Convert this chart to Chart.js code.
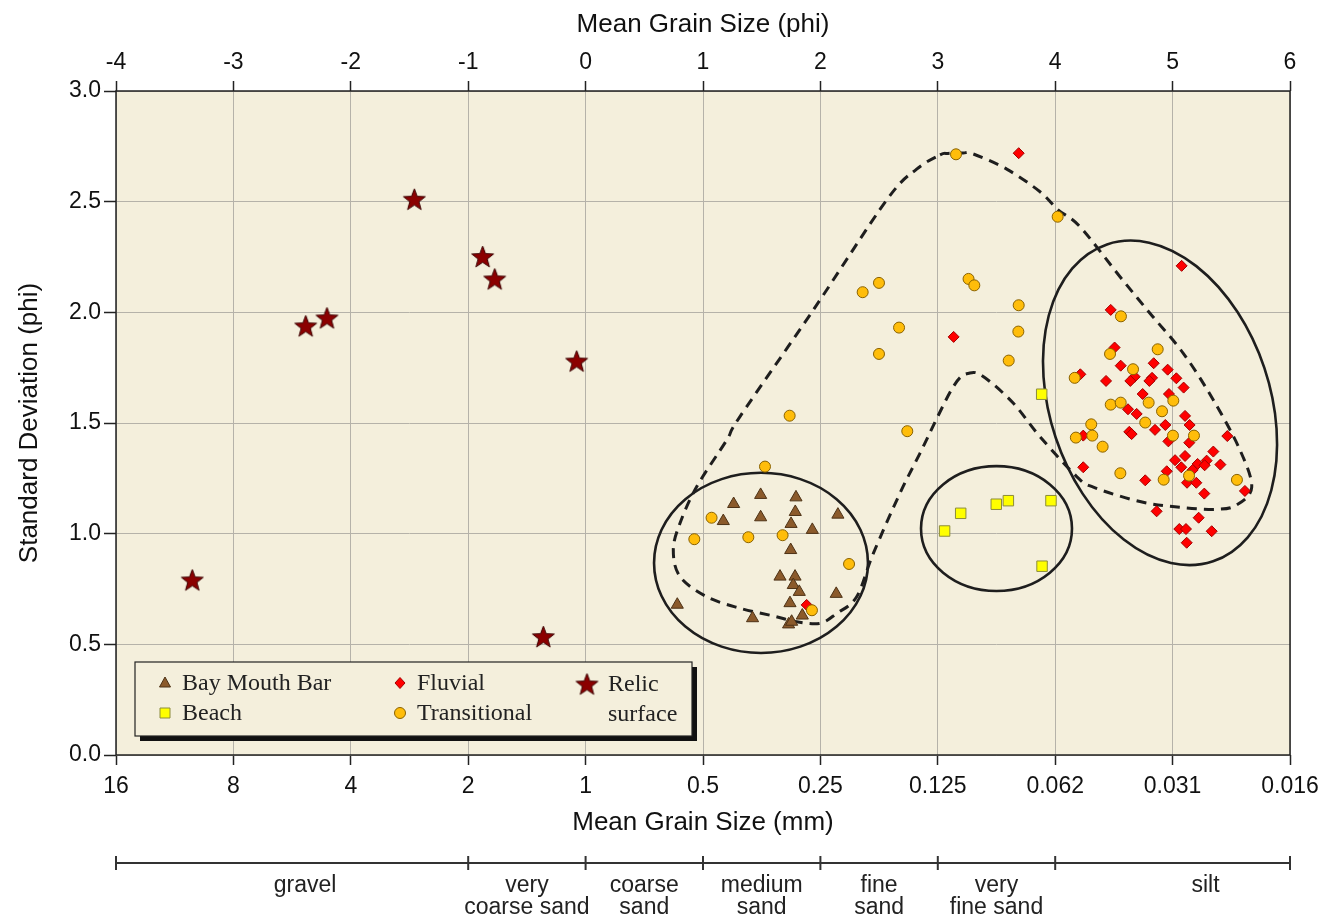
<!DOCTYPE html>
<html>
<head>
<meta charset="utf-8">
<script src="https://cdn.jsdelivr.net/npm/chart.js@4/dist/chart.umd.min.js"></script>
<style>
  body { margin: 0; background: #ffffff; }
  #wrap { width: 1323px; height: 920px; }
</style>
</head>
<body>
<div id="wrap"><canvas id="grainChart" width="1323" height="920"></canvas></div>
<script>
// Mean grain size (phi) vs standard deviation (phi), by sample group
const phiTicks = [-4, -3, -2, -1, 0, 1, 2, 3, 4, 5, 6];
const mmLabels = ['16', '8', '4', '2', '1', '0.5', '0.25', '0.125', '0.062', '0.031', '0.016'];

const bayMouthBarPhi = [1.491, 1.792, 1.261, 1.491, 1.786, 1.173, 1.750, 2.149, 1.931, 1.747, 1.656, 1.784, 1.769, 1.820, 2.135, 0.781, 1.741, 1.846, 1.422, 1.729, 1.755];
const bayMouthBarSd  = [1.175, 1.164, 1.134, 1.074, 1.098, 1.057, 1.044, 1.086, 1.017, 0.926, 0.806, 0.806, 0.768, 0.737, 0.728, 0.679, 0.686, 0.630, 0.618, 0.590, 0.602];

const beachPhi = [3.195, 3.058, 3.498, 3.601, 3.964, 3.888, 3.885];
const beachSd  = [1.092, 1.012, 1.133, 1.149, 1.149, 0.853, 1.630];

const fluvialPhi = [1.883, 3.689, 3.135, 5.077, 4.473, 4.506, 4.558, 4.839, 4.958, 4.214, 4.433, 4.677, 4.640, 4.825, 4.802, 5.032, 5.094, 4.745, 4.969, 4.620, 4.694, 5.106, 4.938, 5.145, 4.631, 4.651, 4.850, 5.466, 4.239, 4.964, 5.142, 5.347, 5.106, 5.021, 5.290, 5.213, 5.273, 5.407, 5.074, 4.239, 4.950, 5.171, 4.767, 5.123, 5.202, 5.616, 5.270, 4.864, 5.222, 5.057, 5.114, 5.333, 5.120];
const fluvialSd  = [0.678, 2.719, 1.889, 2.210, 2.011, 1.841, 1.759, 1.770, 1.741, 1.720, 1.690, 1.709, 1.690, 1.704, 1.690, 1.702, 1.660, 1.631, 1.631, 1.562, 1.541, 1.532, 1.491, 1.491, 1.460, 1.450, 1.469, 1.441, 1.443, 1.417, 1.411, 1.371, 1.351, 1.332, 1.330, 1.315, 1.309, 1.312, 1.300, 1.300, 1.282, 1.288, 1.241, 1.230, 1.230, 1.193, 1.181, 1.101, 1.072, 1.021, 1.021, 1.011, 0.959];

const transitionalPhi = [1.528, 1.073, 0.926, 1.386, 1.678, 2.244, 1.928, 3.155, 4.021, 2.499, 2.360, 3.262, 3.311, 3.689, 2.670, 3.686, 2.499, 3.604, 1.738, 2.740, 4.560, 4.467, 4.873, 4.663, 4.166, 5.006, 4.473, 4.558, 4.796, 4.910, 4.767, 4.307, 5.003, 5.182, 4.176, 4.316, 4.404, 4.555, 5.140, 4.924, 5.548];
const transitionalSd  = [1.303, 1.072, 0.975, 0.984, 0.993, 0.863, 0.654, 2.714, 2.432, 2.133, 2.091, 2.151, 2.122, 2.032, 1.931, 1.913, 1.812, 1.782, 1.533, 1.463, 1.982, 1.812, 1.833, 1.743, 1.704, 1.601, 1.583, 1.592, 1.592, 1.553, 1.502, 1.494, 1.443, 1.443, 1.434, 1.443, 1.393, 1.273, 1.262, 1.244, 1.243];

const relicPhi = [-1.459, -0.877, -0.774, -2.384, -2.203, -0.076, -3.350, -0.360];
const relicSd  = [2.511, 2.252, 2.151, 1.939, 1.975, 1.780, 0.791, 0.535];

// grain-size classes shown under the axis
const classEdges = [-4, -1, 0, 1, 2, 3, 4, 6];
const classNames = [['gravel'], ['very', 'coarse sand'], ['coarse', 'sand'], ['medium', 'sand'], ['fine', 'sand'], ['very', 'fine sand'], ['silt']];
const classLabelPhi = [-2.39, -0.5, 0.5, 1.5, 2.5, 3.5, 5.28];

// group outlines (phi / sd units)
const ellipseCx  = [1.494, 3.500, 4.893];
const ellipseCy  = [0.868, 1.023, 1.591];
const ellipseRx  = [0.911, 0.643, 0.937];
const ellipseRy  = [0.407, 0.282, 0.755];
const ellipseRot = [0, 0, -0.323];

const outlinePhi = [3.019, 3.087, 3.215, 3.300, 3.587, 3.871, 4.024, 4.211, 4.552, 4.807, 5.091, 5.347, 5.574, 5.674, 5.546, 5.376, 5.063, 4.722, 4.325, 4.183, 3.871, 3.644, 3.402, 3.274, 3.132, 2.848, 2.678, 2.451, 2.309, 2.139, 1.997, 1.798, 1.599, 1.315, 1.031, 0.804, 0.747, 0.804, 0.946, 1.202, 1.315, 1.940, 2.565, 2.820];
const outlineSd  = [2.711, 2.718, 2.720, 2.716, 2.647, 2.545, 2.463, 2.387, 2.161, 1.996, 1.815, 1.604, 1.378, 1.210, 1.130, 1.110, 1.119, 1.145, 1.210, 1.258, 1.438, 1.589, 1.704, 1.726, 1.664, 1.363, 1.183, 0.911, 0.715, 0.640, 0.595, 0.602, 0.628, 0.663, 0.715, 0.806, 0.926, 1.047, 1.212, 1.423, 1.529, 2.011, 2.508, 2.647];

const toPoints = (xs, ys) => xs.map((x, i) => ({ x: x, y: ys[i] }));

const SANS = '"Liberation Sans", Arial, sans-serif';
const SERIF = '"Liberation Serif", "Times New Roman", serif';
const PLOT_BG = '#f4efdc';
const GRID = '#b5b2a9';

// filled five-point star used for the relic markers
function makeStar(outer, fill, stroke) {
  const c = document.createElement('canvas');
  const s = Math.ceil(outer * 2 + 4);
  c.width = s; c.height = s;
  const g = c.getContext('2d');
  const inner = outer * 0.42;
  g.beginPath();
  for (let i = 0; i < 10; i++) {
    const r = i % 2 === 0 ? outer : inner;
    const a = -Math.PI / 2 + i * Math.PI / 5;
    const px = s / 2 + r * Math.cos(a), py = s / 2 + 1 + r * Math.sin(a);
    if (i === 0) g.moveTo(px, py); else g.lineTo(px, py);
  }
  g.closePath();
  g.fillStyle = fill; g.fill();
  g.lineWidth = 1; g.strokeStyle = stroke; g.stroke();
  return c;
}
const starImg = makeStar(11.5, '#8b0000', '#3c0000');

const styles = {
  bmb:   { bg: '#8b5a2b', bd: '#4d3216' },
  beach: { bg: '#ffff00', bd: '#8c8c3c' },
  fluv:  { bg: '#ff0000', bd: '#a30000' },
  trans: { bg: '#ffbd0a', bd: '#8a6200' },
  relic: { bg: '#8b0000', bd: '#3c0000' }
};

function closedSpline(ctx, pts) {
  const n = pts.length;
  ctx.moveTo(pts[0].x, pts[0].y);
  for (let i = 0; i < n; i++) {
    const p0 = pts[(i - 1 + n) % n], p1 = pts[i], p2 = pts[(i + 1) % n], p3 = pts[(i + 2) % n];
    ctx.bezierCurveTo(p1.x + (p2.x - p0.x) / 6, p1.y + (p2.y - p0.y) / 6,
                      p2.x - (p3.x - p1.x) / 6, p2.y - (p3.y - p1.y) / 6, p2.x, p2.y);
  }
  ctx.closePath();
}

function legendMarker(ctx, kind, x, y) {
  ctx.save();
  ctx.lineWidth = 1;
  if (kind === 'relic') {
    ctx.drawImage(starImg, x - starImg.width / 2, y - starImg.height / 2);
    ctx.restore();
    return;
  }
  const st = styles[kind];
  ctx.fillStyle = st.bg; ctx.strokeStyle = st.bd;
  ctx.beginPath();
  if (kind === 'bmb') { ctx.moveTo(x, y - 6); ctx.lineTo(x + 5.5, y + 4); ctx.lineTo(x - 5.5, y + 4); ctx.closePath(); }
  if (kind === 'beach') ctx.rect(x - 5, y - 5, 10, 10);
  if (kind === 'fluv') { ctx.moveTo(x, y - 5.5); ctx.lineTo(x + 5, y); ctx.lineTo(x, y + 5.5); ctx.lineTo(x - 5, y); ctx.closePath(); }
  if (kind === 'trans') ctx.arc(x, y, 5.5, 0, Math.PI * 2);
  ctx.fill(); ctx.stroke();
  ctx.restore();
}

const decor = {
  id: 'decor',
  beforeDraw(chart) {
    const { ctx, chartArea: a } = chart;
    ctx.save();
    ctx.fillStyle = PLOT_BG;
    ctx.fillRect(a.left, a.top, a.right - a.left, a.bottom - a.top);
    ctx.restore();
  },
  beforeDatasetsDraw(chart) {
    const { ctx, chartArea: a, scales: { x, y } } = chart;
    const pxPhi = x.getPixelForValue(1) - x.getPixelForValue(0);
    const pxSd = y.getPixelForValue(0) - y.getPixelForValue(1);
    ctx.save();
    ctx.beginPath();
    ctx.rect(a.left, a.top, a.right - a.left, a.bottom - a.top);
    ctx.clip();
    ctx.strokeStyle = '#1e1e1e';
    ctx.lineWidth = 2.6;
    ellipseCx.forEach((cx, i) => {
      ctx.beginPath();
      ctx.ellipse(x.getPixelForValue(cx), y.getPixelForValue(ellipseCy[i]),
        ellipseRx[i] * pxPhi, ellipseRy[i] * pxSd, ellipseRot[i], 0, Math.PI * 2);
      ctx.stroke();
    });
    const pts = outlinePhi.map((p, i) => ({ x: x.getPixelForValue(p), y: y.getPixelForValue(outlineSd[i]) }));
    ctx.setLineDash([10, 7]);
    ctx.lineWidth = 3;
    ctx.beginPath();
    closedSpline(ctx, pts);
    ctx.stroke();
    ctx.restore();
  },
  afterDraw(chart) {
    const { ctx, chartArea: a, scales: { x } } = chart;
    ctx.save();
    // frame
    ctx.strokeStyle = '#222';
    ctx.lineWidth = 1.5;
    ctx.strokeRect(a.left, a.top, a.right - a.left, a.bottom - a.top);

    // legend box
    const lx = a.left + 19, ly = a.bottom - 93, lw = 557, lh = 74;
    ctx.fillStyle = '#111';
    ctx.fillRect(lx + 5, ly + 5, lw, lh);
    ctx.fillStyle = PLOT_BG;
    ctx.fillRect(lx, ly, lw, lh);
    ctx.strokeStyle = '#222';
    ctx.lineWidth = 1.2;
    ctx.strokeRect(lx, ly, lw, lh);
    const rows = [
      ['bmb', 'Bay Mouth Bar', 30, 21], ['beach', 'Beach', 30, 51],
      ['fluv', 'Fluvial', 265, 21], ['trans', 'Transitional', 265, 51]
    ];
    ctx.font = '24px ' + SERIF;
    ctx.textBaseline = 'middle';
    ctx.textAlign = 'left';
    rows.forEach(r => {
      legendMarker(ctx, r[0], lx + r[2], ly + r[3]);
      ctx.fillStyle = '#222';
      ctx.fillText(r[1], lx + r[2] + 17, ly + r[3] + 1);
    });
    legendMarker(ctx, 'relic', lx + 452, ly + 22);
    ctx.fillStyle = '#222';
    ctx.fillText('Relic', lx + 473, ly + 23);
    ctx.fillText('surface', lx + 473, ly + 53);

    // grain-size class bar
    const by = a.bottom + 108;
    ctx.strokeStyle = '#333';
    ctx.lineWidth = 2;
    ctx.beginPath();
    ctx.moveTo(x.getPixelForValue(classEdges[0]), by);
    ctx.lineTo(x.getPixelForValue(classEdges[classEdges.length - 1]), by);
    classEdges.forEach(e => {
      const px = x.getPixelForValue(e);
      ctx.moveTo(px, by - 7);
      ctx.lineTo(px, by + 7);
    });
    ctx.stroke();
    ctx.font = '23px ' + SANS;
    ctx.fillStyle = '#222';
    ctx.textAlign = 'center';
    classNames.forEach((lines, i) => {
      const px = x.getPixelForValue(classLabelPhi[i]);
      lines.forEach((t, j) => ctx.fillText(t, px, by + 23 + j * 22));
    });
    ctx.restore();
  }
};

const mk = (label, xs, ys, st, pointStyle, radius) => ({
  label: label,
  data: toPoints(xs, ys),
  pointStyle: pointStyle,
  pointRadius: radius,
  pointHoverRadius: radius,
  pointBackgroundColor: st.bg,
  pointBorderColor: st.bd,
  pointBorderWidth: 1
});

// fixed axis boxes so the plot area lands where the original has it
const fixHeight = h => s => { s.height = h; s.paddingLeft = 0; s.paddingRight = 0; };

const ctx = document.getElementById('grainChart').getContext('2d');
const chart = new Chart(ctx, {
  type: 'scatter',
  data: {
    datasets: [
      mk('Relic surface', relicPhi, relicSd, styles.relic, starImg, 12),
      mk('Transitional', transitionalPhi, transitionalSd, styles.trans, 'circle', 5.5),
      mk('Fluvial', fluvialPhi, fluvialSd, styles.fluv, 'rectRot', 5.5),
      mk('Beach', beachPhi, beachSd, styles.beach, 'rect', 7.4),
      mk('Bay Mouth Bar', bayMouthBarPhi, bayMouthBarSd, styles.bmb, 'triangle', 7)
    ]
  },
  options: {
    responsive: false,
    animation: false,
    events: [],
    layout: { padding: { left: 0, right: 33, top: 0, bottom: 0 } },
    plugins: { legend: { display: false }, tooltip: { enabled: false } },
    scales: {
      x: {
        type: 'linear', position: 'bottom', min: -4, max: 6,
        afterFit: fixHeight(165),
        afterBuildTicks: s => { s.ticks = phiTicks.map(v => ({ value: v })); },
        ticks: {
          color: '#111', padding: 8,
          font: { family: SANS, size: 23 },
          callback: (v) => mmLabels[phiTicks.indexOf(v)]
        },
        grid: { color: GRID, lineWidth: 1, tickColor: '#222', tickLength: 10, tickWidth: 1.5 },
        border: { display: false },
        title: {
          display: true, text: 'Mean Grain Size (mm)', color: '#111',
          font: { family: SANS, size: 26 }, padding: { top: 0, bottom: 82 }
        }
      },
      x2: {
        type: 'linear', position: 'top', min: -4, max: 6,
        afterFit: fixHeight(91),
        afterBuildTicks: s => { s.ticks = phiTicks.map(v => ({ value: v })); },
        ticks: { color: '#111', padding: 5, font: { family: SANS, size: 23 } },
        grid: { drawOnChartArea: false, tickColor: '#222', tickLength: 10, tickWidth: 1.5 },
        border: { display: false },
        title: {
          display: true, text: 'Mean Grain Size (phi)', color: '#111',
          font: { family: SANS, size: 26 }, padding: { top: 9, bottom: 0 }
        }
      },
      y: {
        type: 'linear', position: 'left', min: 0, max: 3,
        afterFit: s => { s.width = 116; s.paddingTop = 0; s.paddingBottom = 0; },
        ticks: {
          stepSize: 0.5, color: '#111', padding: 3,
          font: { family: SANS, size: 23 },
          callback: v => v.toFixed(1)
        },
        grid: { color: GRID, lineWidth: 1, tickColor: '#222', tickLength: 12, tickWidth: 1.5 },
        border: { display: false },
        title: {
          display: true, text: 'Standard Deviation (phi)', color: '#111',
          font: { family: SANS, size: 26 }, padding: { top: 14, bottom: 0 }
        }
      }
    }
  },
  plugins: [decor]
});
</script>
</body>
</html>
